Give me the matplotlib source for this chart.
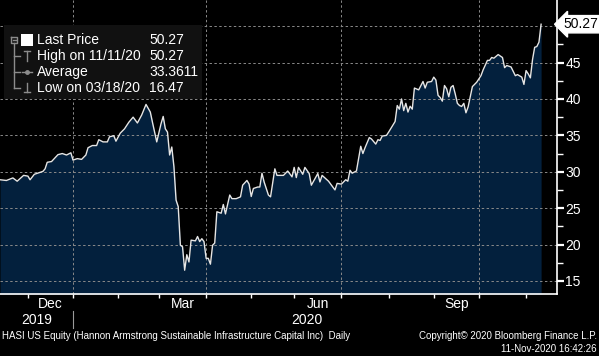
import numpy as np
import pandas as pd
import matplotlib.pyplot as plt
from matplotlib.lines import Line2D
from matplotlib.patches import Rectangle
from matplotlib.transforms import blended_transform_factory

# trading calendar (NYSE holidays removed)
holidays = ["2019-11-28", "2019-12-25", "2020-01-01", "2020-01-20", "2020-02-17",
            "2020-04-10", "2020-05-25", "2020-07-03", "2020-09-07"]
bdays = pd.bdate_range("2019-11-12", "2020-11-11", freq="C", holidays=holidays)

# session number (trading day since start) and closing price
session = [0, 3, 6, 8, 11, 13, 14, 16, 20, 21,
           22, 24, 27, 29, 31, 33, 34, 36, 38, 40,
           41, 43, 45, 46, 48, 50, 51, 53, 54, 56,
           58, 60, 62, 64, 66, 68, 70, 71, 73, 75,
           76, 77, 78, 79, 80, 81, 82, 83, 84, 85,
           86, 87, 88, 89, 91, 92, 93, 94, 95, 96,
           97, 98, 99, 100, 101, 103, 104, 105, 107, 108,
           110, 112, 113, 115, 116, 117, 118, 120, 121, 122,
           123, 125, 126, 128, 129, 132, 134, 136, 137, 138,
           139, 141, 142, 144, 145, 148, 149, 150, 153, 155,
           156, 157, 159, 161, 162, 163, 164, 166, 167, 168,
           169, 170, 172, 173, 175, 176, 177, 178, 180, 181,
           183, 184, 185, 186, 187, 188, 189, 190, 191, 192,
           193, 195, 197, 198, 199, 201, 202, 203, 204, 205,
           206, 207, 208, 209, 210, 211, 212, 213, 214, 215,
           216, 217, 218, 219, 220, 222, 223, 224, 225, 227,
           228, 229, 230, 232, 234, 235, 236, 237, 238, 240,
           241, 243, 244, 245, 246, 247, 248, 249, 250, 251,
           252]
price = [28.9, 28.8, 29.15, 28.7, 29.5, 29.4, 28.9, 29.65, 30.05, 30.4,
         31.3, 31.4, 32.35, 32.5, 32.3, 32.6, 31.6, 31.8, 31.7, 32.3,
         33.3, 33.6, 33.6, 34.4, 34.1, 34.1, 34.8, 34.95, 34.2, 35.3,
         35.9, 36.8, 37.5, 36.7, 37.8, 39.25, 38.2, 36.8, 34.1, 36.6,
         37.6, 35.9, 35.45, 32.3, 33.4, 30.7, 26.1, 25.2, 19.9, 19.7,
         16.47, 18.6, 17.6, 20.6, 20.5, 21.1, 20.4, 20.8, 20.4, 18.1,
         18.1, 17.3, 19.9, 20.2, 24.5, 24.3, 25.5, 24.2, 26.8, 26.3,
         26.3, 26.55, 28.15, 28.8, 28.3, 26.6, 27.7, 27.9, 27.9, 29.8,
         28.6, 26.8, 26.55, 30.4, 29.5, 29.5, 30.1, 29.3, 30.6, 29.2,
         30.6, 29.65, 30.6, 29.75, 28.15, 29.75, 28.6, 29.5, 28.7, 27.9,
         27.5, 28.4, 28.3, 28.9, 28.7, 30.2, 29.8, 30.1, 31.8, 33.5,
         32.5, 33.3, 34.7, 34.5, 33.8, 34.4, 34.3, 34.9, 35.0, 35.45,
         36.4, 36.9, 39.1, 38.6, 40.0, 38.4, 39.4, 38.2, 39.0, 38.6,
         41.5, 41.25, 42.4, 41.5, 42.3, 42.4, 43.0, 42.6, 40.5, 40.2,
         39.7, 41.85, 41.4, 40.3, 41.6, 41.85, 40.7, 39.4, 39.1, 38.97,
         39.4, 38.1, 38.9, 40.3, 41.7, 42.3, 42.75, 43.2, 44.0, 45.3,
         45.3, 45.7, 45.6, 46.1, 45.7, 44.3, 44.6, 44.5, 44.4, 43.2,
         43.35, 43.0, 42.0, 43.9, 43.45, 42.9, 45.4, 47.1, 47.2, 47.8,
         50.27]

legend_names = ["Last Price", "High on 11/11/20", "Average", "Low on 03/18/20"]
legend_values = ["50.27", "50.27", "33.3611", "16.47"]
month_labels = {(2019, 12): "Dec", (2020, 3): "Mar", (2020, 6): "Jun", (2020, 9): "Sep"}

W, H = 599, 356
FONT = ["Liberation Sans", "DejaVu Sans"]
plt.rcParams["font.family"] = FONT


def fx(x):
    return x / W


def fy(y):
    return 1 - y / H


fig = plt.figure(figsize=(W / 100, H / 100), dpi=100, facecolor="black")
ax = fig.add_axes([0, fy(294), fx(557), 294 / H])
ax.set_facecolor("black")

ymin = 13.2
ax.fill_between(session, price, ymin, color="#03203d", lw=0, zorder=1)
ax.plot(session, price, color="#e6e6e6", lw=1.0, zorder=3)

ax.set_xlim(0, 259.4)
ax.set_ylim(ymin, 53.6)

# month boundaries in session units
month_start = pd.Series(np.arange(len(bdays)), index=bdays).groupby(
    [bdays.year, bdays.month]).first()
starts = list(month_start.values[1:])
keys = list(month_start.index[1:])

for v in range(15, 55, 5):
    ax.axhline(v, color="#8a8a8a", lw=0.7, ls=(0, (2.5, 2.5)), zorder=2)
for (yr, mo), s in zip(keys, starts):
    if mo in (1, 4, 7, 10):
        ax.axvline(s, color="#8a8a8a", lw=0.7, ls=(0, (2.5, 2.5)), zorder=2)

ax.set_xticks(starts)
ax.set_xticklabels([])
ax.tick_params(axis="x", direction="out", length=3, width=1, color="white")

ax.yaxis.tick_right()
ax.set_yticks(range(15, 50, 5))
ax.set_yticks(np.arange(17.5, 52.5, 5), minor=True)
ax.tick_params(axis="y", which="major", direction="out", length=5, width=1.6,
               color="white", labelcolor="white", labelsize=10, pad=1)
ax.tick_params(axis="y", which="minor", direction="out", length=4, width=1,
               color="white")

for side in ("top", "left"):
    ax.spines[side].set_visible(False)
ax.spines["bottom"].set_color("white")
ax.spines["right"].set_color("white")
ax.spines["bottom"].set_linewidth(1.2)
ax.spines["right"].set_linewidth(1.2)

# month and year labels
tr = blended_transform_factory(ax.transData, fig.transFigure)
edges = starts + [len(bdays) + 12]
for i, key in enumerate(keys):
    if key in month_labels:
        mid = (edges[i] + edges[i + 1]) / 2
        ax.text(mid, fy(304), month_labels[key], transform=tr, color="white",
                fontsize=10, ha="center", va="center")
jan = starts[keys.index((2020, 1))]
ax.text(jan / 2, fy(320), "2019", transform=tr, color="white", fontsize=10,
        ha="center", va="center")
ax.text((jan + session[-1]) / 2, fy(320), "2020", transform=tr, color="white",
        fontsize=10, ha="center", va="center")
fig.add_artist(Line2D([fx(72.5), fx(72.5)], [fy(311), fy(328)], color="#9a9a9a", lw=0.8))

# last price tag
ax.text(1.012, price[-1], price[-1], transform=blended_transform_factory(ax.transAxes, ax.transData),
        color="black", fontsize=10, ha="left", va="center",
        bbox=dict(boxstyle="larrow,pad=0.12", fc="white", ec="white"))

# legend box
fig.add_artist(Rectangle((fx(4), fy(99)), fx(198), 74 / H, transform=fig.transFigure,
                         fc="#111111", ec="none", zorder=5))
rows = [40, 56, 72, 88]
for name, val, y in zip(legend_names, legend_values, rows):
    fig.text(fx(37), fy(y), name, color="white", fontsize=10, va="center", zorder=6)
    fig.text(fx(149), fy(y), val, color="white", fontsize=10, va="center", zorder=6)
g = "#8c8c8c"
lines = [
    ([11, 17, 17, 11, 11], [37, 37, 43, 43, 37]), ([12.5, 15.5], [40, 40]),
    ([14, 14], [43, 88]), ([14, 20], [56, 56]), ([14, 20], [72, 72]), ([14, 20], [88, 88]),
    ([27, 27], [51, 61]), ([24, 30], [51, 51]),
    ([22, 32], [72, 72]),
    ([27, 27], [83, 92]), ([24, 30], [92, 92]),
]
for xs, ys in lines:
    fig.add_artist(Line2D([fx(v) for v in xs], [fy(v) for v in ys], color=g, lw=1, zorder=6))
fig.add_artist(Line2D([fx(27)], [fy(72)], marker="o", ms=2.5, color=g, zorder=6))
fig.add_artist(Rectangle((fx(21), fy(46)), fx(12), 12 / H, transform=fig.transFigure,
                         fc="white", ec="none", zorder=6))

# footer
fig.text(fx(2), fy(336), "HASI US Equity (Hannon Armstrong Sustainable Infrastructure Capital Inc)  Daily",
         color="white", fontsize=7, va="center")
fig.text(fx(597), fy(336), "Copyright\u00a9 2020 Bloomberg Finance L.P.", color="white",
         fontsize=7, va="center", ha="right")
fig.text(fx(597), fy(349), "11-Nov-2020 16:42:26", color="white", fontsize=7,
         va="center", ha="right")

fig.savefig("out.png", dpi=100, facecolor="black")
